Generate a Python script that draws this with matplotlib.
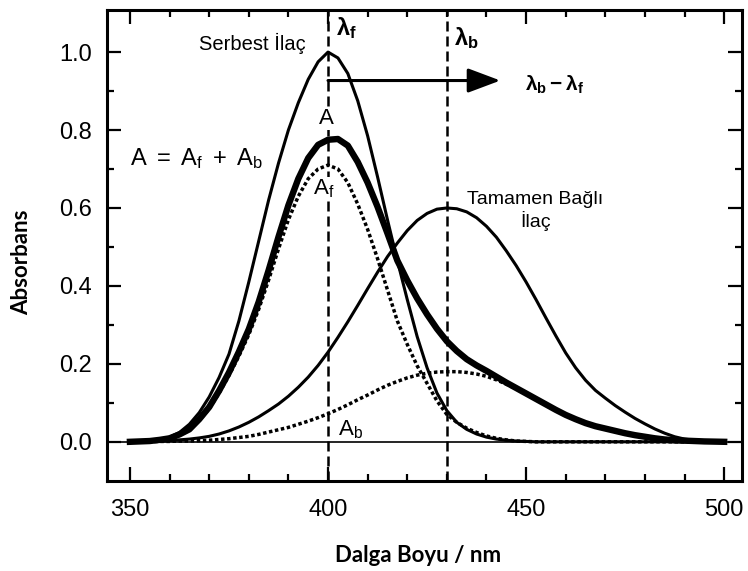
import numpy as np
import matplotlib
matplotlib.use("Agg")
import matplotlib.pyplot as plt
from matplotlib.ticker import FixedLocator

plt.rcParams['font.family'] = ['Liberation Sans', 'DejaVu Sans']
plt.rcParams['mathtext.fontset'] = 'custom'
plt.rcParams['mathtext.rm'] = 'Liberation Sans'
plt.rcParams['mathtext.it'] = 'Liberation Sans:italic'
plt.rcParams['mathtext.bf'] = 'Liberation Sans:bold'

# wavelength grid (nm), 2.5 nm steps
wl = np.arange(350, 500.1, 2.5)

# free drug (Serbest Ilac)
free = [0.000, 0.001, 0.003, 0.006, 0.012, 0.024, 0.045, 0.075, 0.115, 0.165,
        0.225, 0.310, 0.410, 0.515, 0.620, 0.715, 0.800, 0.870, 0.930, 0.975,
        1.000, 0.985, 0.945, 0.875, 0.785, 0.680, 0.570, 0.465, 0.365, 0.270,
        0.190, 0.125, 0.080, 0.050, 0.032, 0.020, 0.012, 0.007, 0.004, 0.002,
        0.001] + [0.0] * 20

# fully bound drug (Tamamen Bagli Ilac)
bound = [0.000, 0.000, 0.001, 0.002, 0.003, 0.005, 0.007, 0.010, 0.014, 0.020,
         0.028, 0.038, 0.050, 0.064, 0.080, 0.097, 0.117, 0.140, 0.166, 0.196,
         0.230, 0.268, 0.308, 0.350, 0.393, 0.435, 0.475, 0.510, 0.542, 0.568,
         0.586, 0.597, 0.600, 0.598, 0.590, 0.575, 0.553, 0.525, 0.490, 0.452,
         0.410, 0.365, 0.318, 0.272, 0.228, 0.190, 0.158, 0.132, 0.112, 0.093,
         0.076, 0.060, 0.046, 0.033, 0.022, 0.013, 0.007, 0.004, 0.002, 0.001,
         0.000]

# A_f (dotted)
a_f = [0.000, 0.001, 0.002, 0.004, 0.008, 0.017, 0.030, 0.055, 0.085, 0.125,
       0.170, 0.220, 0.275, 0.340, 0.415, 0.495, 0.570, 0.630, 0.675, 0.700,
       0.710, 0.700, 0.665, 0.610, 0.545, 0.470, 0.390, 0.310, 0.250, 0.195,
       0.150, 0.105, 0.070, 0.050, 0.035, 0.024, 0.015, 0.009, 0.005, 0.002,
       0.001] + [0.0] * 20

# A_b (dotted)
a_b = [0.000, 0.000, 0.0005, 0.001, 0.001, 0.002, 0.002, 0.003, 0.004, 0.006,
       0.008, 0.011, 0.014, 0.019, 0.025, 0.031, 0.037, 0.045, 0.053, 0.062,
       0.072, 0.083, 0.095, 0.108, 0.120, 0.133, 0.145, 0.155, 0.164, 0.171,
       0.176, 0.179, 0.180, 0.180, 0.178, 0.174, 0.168, 0.159, 0.148, 0.136,
       0.124, 0.110, 0.096, 0.082, 0.069, 0.058, 0.048, 0.040, 0.034, 0.028,
       0.022, 0.017, 0.013, 0.009, 0.006, 0.004, 0.003, 0.002, 0.001, 0.0005,
       0.000]

# A = A_f + A_b (thick)
a_tot = [0.000, 0.001, 0.002, 0.005, 0.009, 0.019, 0.032, 0.058, 0.089, 0.131,
         0.178, 0.231, 0.289, 0.359, 0.440, 0.526, 0.607, 0.675, 0.728, 0.762,
         0.775, 0.777, 0.760, 0.718, 0.665, 0.603, 0.535, 0.465, 0.414, 0.368,
         0.327, 0.290, 0.258, 0.233, 0.212, 0.196, 0.182, 0.167, 0.152, 0.138,
         0.124, 0.110, 0.096, 0.082, 0.069, 0.058, 0.048, 0.040, 0.034, 0.028,
         0.022, 0.017, 0.013, 0.009, 0.006, 0.004, 0.003, 0.002, 0.001, 0.0005,
         0.000]

lam_f = 400
lam_b = 430

fig, ax = plt.subplots(figsize=(7.48, 5.71), dpi=100)
fig.subplots_adjust(left=0.143, right=0.992, bottom=0.158, top=0.9825)

ax.axhline(0, color='k', lw=1.2)
for lam in [lam_f, lam_b]:
    ax.axvline(lam, color='k', lw=1.8, ls=(0, (4, 2)))

dot = (0, (1.0, 0.75))
ax.plot(wl, a_f, color='k', lw=2.5, ls=dot)
ax.plot(wl, a_b, color='k', lw=2.5, ls=dot)
ax.plot(wl, free, color='k', lw=2.2)
ax.plot(wl, bound, color='k', lw=2.2)
ax.plot(wl, a_tot, color='k', lw=4.6)

ax.annotate('', xy=(443.5, 0.927), xytext=(lam_f, 0.927),
            arrowprops=dict(arrowstyle='-|>,head_length=0.8,head_width=0.3',
                            mutation_scale=25, lw=2.2, color='k',
                            shrinkA=0, shrinkB=0))

ax.text(380.8, 1.022, 'Serbest İlaç', fontsize=14.5, ha='center', va='center')
ax.text(402.0, 1.062, r'$\mathbf{\lambda_f}$', fontsize=17, ha='left', va='center')
ax.text(431.8, 1.037, r'$\mathbf{\lambda_b}$', fontsize=17, ha='left', va='center')
ax.text(457.3, 0.916, r'$\mathbf{\lambda_b - \lambda_f}$', fontsize=15, ha='center', va='center')
ax.text(399.5, 0.829, 'A', fontsize=16, ha='center', va='center',
        bbox=dict(facecolor='white', edgecolor='none', pad=0.5))
ax.text(399.0, 0.649, r'$\mathrm{A_f}$', fontsize=16, ha='center', va='center',
        bbox=dict(facecolor='white', edgecolor='none', pad=0.5))
ax.text(366.9, 0.728, r'$\mathrm{A\ =\ A_f\ +\ A_b}$', fontsize=17, ha='center', va='center')
ax.text(405.6, 0.031, r'$\mathrm{A_b}$', fontsize=16, ha='center', va='center')
ax.text(452.3, 0.592, 'Tamamen Bağlı\nİlaç', fontsize=14, ha='center', va='center',
        linespacing=1.2)

ax.set_xlim(344.2, 504.5)
ax.set_ylim(-0.100, 1.108)
ax.set_xticks([350, 400, 450, 500])
ax.xaxis.set_minor_locator(FixedLocator([x for x in range(360, 500, 10) if x % 50]))
ax.set_yticks([0.0, 0.2, 0.4, 0.6, 0.8, 1.0])
ax.set_yticklabels(['0.0', '0.2', '0.4', '0.6', '0.8', '1.0'])
ax.yaxis.set_minor_locator(FixedLocator([0.1, 0.3, 0.5, 0.7, 0.9]))
ax.tick_params(which='both', direction='in', top=True, right=True, width=1.6,
               labelsize=17)
ax.tick_params(which='major', length=10)
ax.tick_params(which='minor', length=5)
ax.tick_params(axis='y', pad=11)
ax.tick_params(axis='x', pad=13)
for sp in ax.spines.values():
    sp.set_linewidth(2.2)

fig.text(22 / 748, 1 - 262 / 571, 'Absorbans', rotation=90, ha='center', va='center',
         fontsize=16, fontweight='bold', family=['Lato', 'DejaVu Sans'])
fig.text(418 / 748, 1 - 556 / 571, 'Dalga Boyu / nm', ha='center', va='center',
         fontsize=16, fontweight='bold', family=['Lato', 'DejaVu Sans'])

fig.savefig('out.png', dpi=100)
